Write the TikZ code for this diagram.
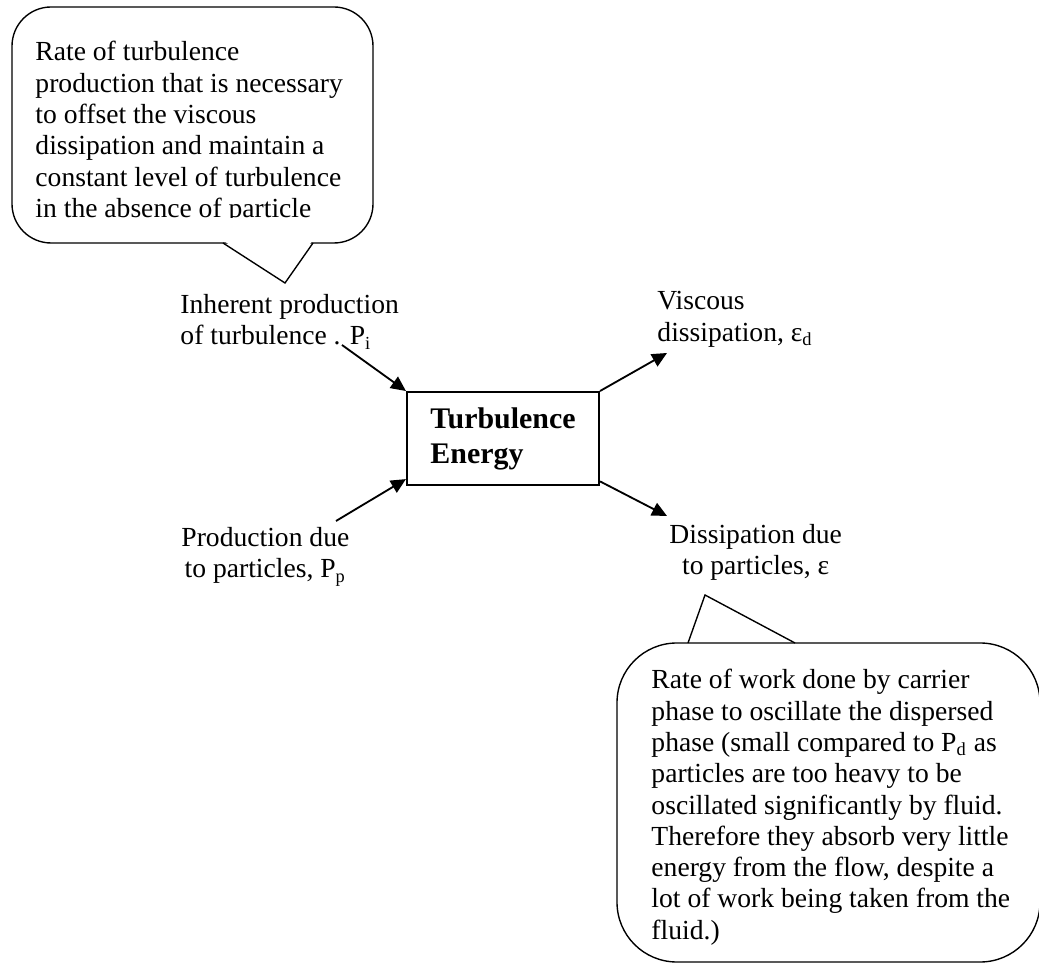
\documentclass[tikz,border=0pt]{standalone}
\usepackage{fontspec}
\setmainfont{Liberation Serif}
\usetikzlibrary{arrows.meta}

\begin{document}
\begin{tikzpicture}[
        x=0.4348pt, y=-0.4348pt,
        font=\fontsize{12}{13.6}\selectfont,
        label/.style={
            inner sep=0pt,
            anchor=north west,
            align=left
        },
        centerlabel/.style={
            label,
            align=center
        },
        energybox/.style={
            draw,
            line width=0.9pt,
            minimum width=83.5pt,
            minimum height=40.4pt,
            inner sep=0pt,
            align=left,
            font=\fontsize{13}{15.2}\selectfont\bfseries
        },
        flow/.style={
            -{Triangle[length=6.5pt, width=6pt]},
            line width=0.8pt
        },
        callout/.style={
            draw,
            line width=0.6pt
        }
    ]
        \useasboundingbox (0,0) rectangle (1039,965);

        \draw[callout, rounded corners=17pt] (12,7) rectangle (373,243);
        \fill[white] (224,241) -- (285,283) -- (312,241) -- cycle;
        \draw[callout] (223,243) -- (285,283) -- (313,243);
        \begin{scope}
            \clip (12,7) rectangle (373,218);
            \node[label] (topnote) at (35,41) {Rate of turbulence\\production that is necessary\\to offset the viscous\\dissipation and maintain a\\constant level of turbulence\\in the absence of particle};
        \end{scope}

        \draw[callout, rounded corners=26pt] (617,643) rectangle (1040,962);
        \fill[white] (689,641) -- (705,595) -- (794,641) -- cycle;
        \draw[callout] (688,643) -- (705,595) -- (795,643);
        \node[label] (bottomnote) at (651,669) {Rate of work done by carrier\\phase to oscillate the dispersed\\phase (small compared to P\textsubscript{d} as\\particles are too heavy to be\\oscillated significantly by fluid.\\Therefore they absorb very little\\energy from the flow, despite a\\lot of work being taken from the\\fluid.)};

        \node[energybox] (energy) at (503,438.5) {Turbulence\\Energy};

        \node[label] (inherent) at (180,294) {Inherent production\\of turbulence . P\textsubscript{i}};
        \node[label] (viscous) at (657,291) {Viscous\\dissipation, ε\textsubscript{d}};
        \node[centerlabel] (production) at (181,527) {Production due\\to particles, P\textsubscript{p}};
        \node[centerlabel] (dissipation) at (669,524) {Dissipation due\\to particles, ε};

        \coordinate (inherent-end) at (342,345);
        \coordinate (production-end) at (336,521);
        \coordinate (viscous-end) at (667,353);
        \coordinate (dissipation-end) at (667,516);

        \draw[flow] (inherent-end) -- (energy.north west);
        \draw[flow] (production-end) -- ([yshift=3pt]energy.south west);
        \draw[flow] (energy.north east) -- (viscous-end);
        \draw[flow] ([yshift=2pt]energy.south east) -- (dissipation-end);
    \end{tikzpicture}
\end{document}
